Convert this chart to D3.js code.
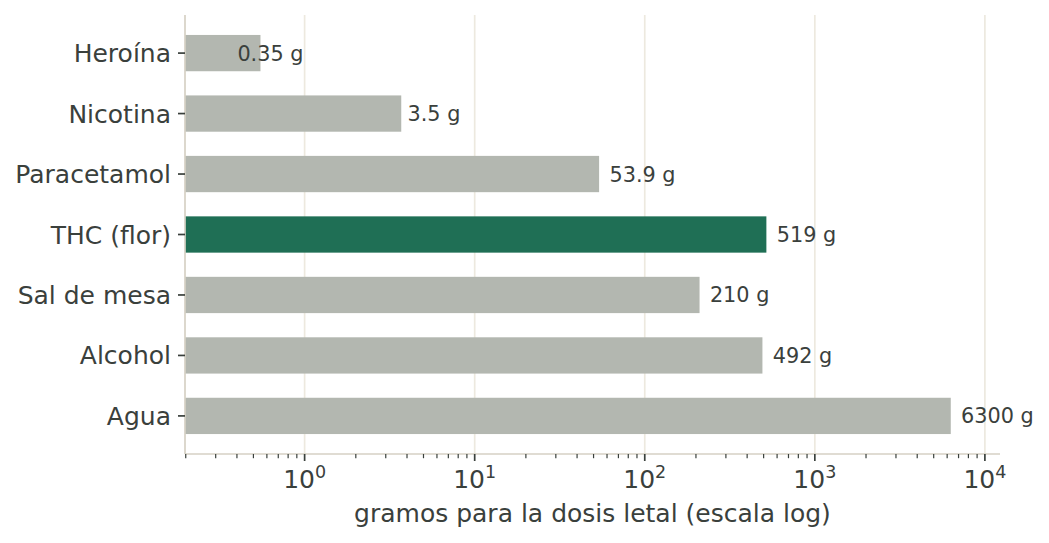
<!DOCTYPE html>
<html>
<head>
<meta charset="utf-8">
<script src="https://cdn.jsdelivr.net/npm/d3@7"></script>
<style>
  body { margin: 0; background: #fff; }
  text { font-family: "DejaVu Sans", sans-serif; fill: #3a403c; }
</style>
</head>
<body>
<svg id="chart"></svg>
<script>
var categories = ["Heroína", "Nicotina", "Paracetamol", "THC (flor)", "Sal de mesa", "Alcohol", "Agua"];
// bar lengths as drawn, and the values printed next to them
var barValues = [0.55, 3.7, 53.9, 519, 210, 492, 6300];
var labelValues = [0.35, 3.5, 53.9, 519, 210, 492, 6300];
var labelText = ["0.35 g", "3.5 g", "53.9 g", "519 g", "210 g", "492 g", "6300 g"];
var highlight = "THC (flor)";
var majorTicks = [1, 10, 100, 1000, 10000];
var exponents = ["0", "1", "2", "3", "4"];

// note: "top" is taken by window.top, so plot edges get their own names
var width = 1049,
  height = 543,
  plotLeft = 185,
  plotRight = 1000,
  plotTop = 15,
  plotBottom = 454;

var svg = d3.select("#chart").attr("width", width).attr("height", height);
svg.append("rect").attr("width", width).attr("height", height).attr("fill", "#fff");

var x = d3.scaleLog().domain([0.198, 12270]).range([plotLeft, plotRight]);
var y = d3.scaleBand().domain(categories).range([plotTop, plotBottom])
  .paddingInner(0.4).paddingOuter(0.33);

// grid
svg.append("g")
  .selectAll("line")
  .data(majorTicks)
  .enter()
  .append("line")
  .attr("x1", function (d) { return x(d); })
  .attr("x2", function (d) { return x(d); })
  .attr("y1", plotTop)
  .attr("y2", plotBottom)
  .attr("stroke", "#ede9df")
  .attr("stroke-width", 1.7);

// bars
svg.append("g")
  .selectAll("rect")
  .data(categories)
  .enter()
  .append("rect")
  .attr("x", x.range()[0])
  .attr("y", function (d) { return y(d); })
  .attr("width", function (d, i) { return x(barValues[i]) - x.range()[0]; })
  .attr("height", y.bandwidth())
  .attr("fill", function (d) { return d === highlight ? "#1f6f55" : "#b3b7b0"; });

// value labels
svg.append("g")
  .selectAll("text")
  .data(categories)
  .enter()
  .append("text")
  .attr("x", function (d, i) { return x(labelValues[i] * 1.15); })
  .attr("y", function (d) { return y(d) + y.bandwidth() / 2; })
  .attr("dy", "0.36em")
  .style("font-size", "20.8px")
  .text(function (d, i) { return labelText[i]; });

// spines
svg.append("line")
  .attr("x1", plotLeft).attr("x2", plotLeft)
  .attr("y1", plotTop).attr("y2", plotBottom)
  .attr("stroke", "#d6d1c5").attr("stroke-width", 1.7);
svg.append("line")
  .attr("x1", plotLeft).attr("x2", plotRight)
  .attr("y1", plotBottom).attr("y2", plotBottom)
  .attr("stroke", "#d6d1c5").attr("stroke-width", 1.7);

// y ticks and labels
var yt = svg.append("g")
  .selectAll("g")
  .data(categories)
  .enter()
  .append("g")
  .attr("transform", function (d) { return "translate(0," + (y(d) + y.bandwidth() / 2) + ")"; });
yt.append("line")
  .attr("x1", plotLeft - 7).attr("x2", plotLeft)
  .attr("stroke", "#3a403c").attr("stroke-width", 1.7);
yt.append("text")
  .attr("x", plotLeft - 14)
  .attr("dy", "0.36em")
  .attr("text-anchor", "end")
  .style("font-size", "25px")
  .text(function (d) { return d; });

// minor x ticks
var minor = x.ticks().filter(function (d) {
  return majorTicks.indexOf(d) < 0 && d >= x.domain()[0] && d <= x.domain()[1];
});
svg.append("g")
  .selectAll("line")
  .data(minor)
  .enter()
  .append("line")
  .attr("x1", function (d) { return x(d); })
  .attr("x2", function (d) { return x(d); })
  .attr("y1", plotBottom)
  .attr("y2", plotBottom + 4.2)
  .attr("stroke", "#3a403c")
  .attr("stroke-width", 1.2);

// major x ticks
var xt = svg.append("g")
  .selectAll("g")
  .data(majorTicks)
  .enter()
  .append("g")
  .attr("transform", function (d) { return "translate(" + x(d) + "," + plotBottom + ")"; });
xt.append("line")
  .attr("y2", 7)
  .attr("stroke", "#3a403c")
  .attr("stroke-width", 1.7);
var tl = xt.append("text")
  .attr("y", 34)
  .attr("text-anchor", "middle")
  .style("font-size", "25px");
tl.append("tspan").text("10");
tl.append("tspan")
  .attr("dy", -10)
  .style("font-size", "17.5px")
  .text(function (d, i) { return exponents[i]; });

// axis title
svg.append("text")
  .attr("x", (plotLeft + plotRight) / 2)
  .attr("y", 522)
  .attr("text-anchor", "middle")
  .style("font-size", "25px")
  .text("gramos para la dosis letal (escala log)");
</script>
</body>
</html>
